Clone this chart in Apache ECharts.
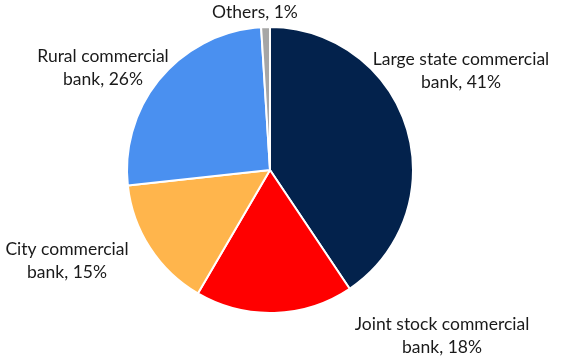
<!DOCTYPE html>
<html><head><meta charset="utf-8">
<script src="https://cdn.jsdelivr.net/npm/echarts@6/dist/echarts.min.js"></script>
<style>html,body{margin:0;padding:0;background:#fff}#c{width:561px;height:362px}</style>
</head><body><div id="c"></div>
<script>
const categories = ['Large state commercial bank', 'Joint stock commercial bank', 'City commercial bank', 'Rural commercial bank', 'Others'];
const labelText = ['Large state commercial\nbank', 'Joint stock commercial\nbank', 'City commercial\nbank', 'Rural commercial\nbank', 'Others'];
const shares = [41, 18, 15, 26, 1];
const colors = ['#03224c', '#ff0000', '#ffb54c', '#4a90f0', '#a6a6a6'];
const labelAnchor = [[461, 71], [442, 336], [67, 261], [103, 68], [255, 12]];

const chart = echarts.init(document.getElementById('c'), null, {renderer: 'canvas'});
chart.setOption({
  animation: false,
  series: [{
    type: 'pie',
    center: [270, 170],
    radius: 143,
    startAngle: 90,
    clockwise: true,
    data: categories.map((c, i) => ({name: c, value: shares[i], itemStyle: {color: colors[i]}})),
    itemStyle: {borderColor: '#fff', borderWidth: 2},
    label: {
      show: true,
      position: 'outside',
      formatter: p => labelText[p.dataIndex] + ', ' + p.value + '%',
      fontFamily: 'Lato',
      fontSize: 17.5,
      lineHeight: 23,
      color: '#1a1a1a',
      align: 'center',
      overflow: 'none',
      width: 300
    },
    labelLine: {show: false},
    labelLayout: p => ({x: labelAnchor[p.dataIndex][0], y: labelAnchor[p.dataIndex][1], align: 'center', verticalAlign: 'middle'})
  }]
});
</script></body></html>
